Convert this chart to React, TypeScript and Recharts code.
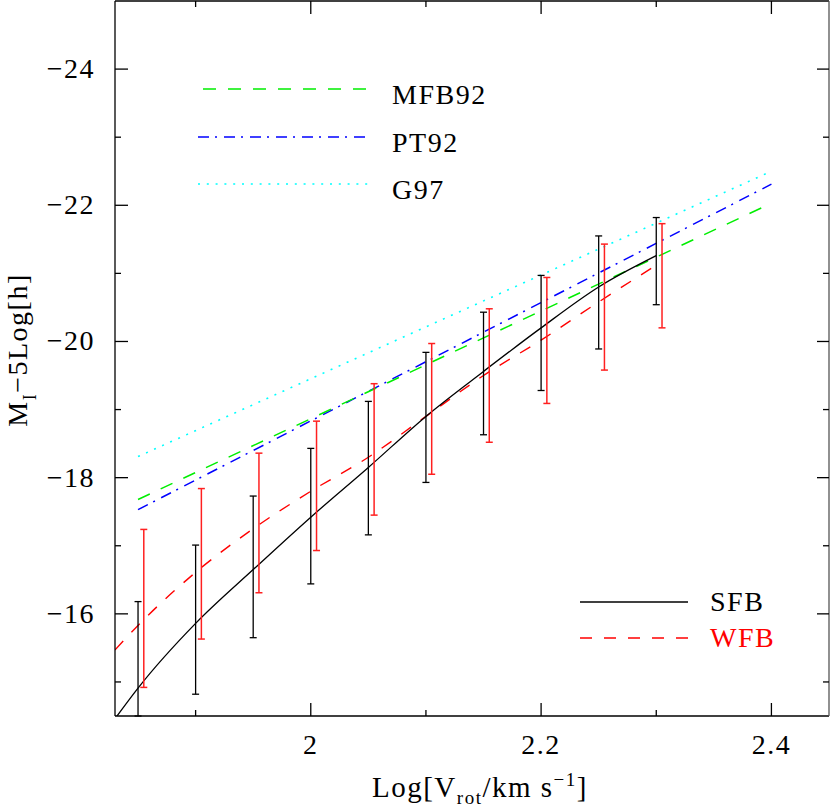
import React from "react"
import { ComposedChart, Line, Scatter, ErrorBar, XAxis, YAxis } from "recharts"

const FONT = '"Liberation Serif", "Times New Roman", serif'

// straight-line relations, end points
const relX = [1.85, 2.4]
const mfb92 = [-17.68, -22.03]
const pt92 = [-17.53, -22.31]
const g97 = [-18.31, -22.5]

// model curves
const curveX = [1.83, 1.85, 1.9, 1.95, 2.0, 2.05, 2.1, 2.15, 2.2, 2.25, 2.3]
const sfb = [-14.46, -14.91, -15.86, -16.65, -17.42, -18.15, -18.9, -19.56, -20.2, -20.8, -21.26]
const wfb = [-15.47, -15.83, -16.61, -17.25, -17.8, -18.3, -18.9, -19.5, -20.02, -20.58, -21.12]

// error bars (top = brighter end, bottom = fainter end; first SFB bar runs off the axis)
const sfbBarX = [1.85, 1.9, 1.95, 2.0, 2.05, 2.1, 2.15, 2.2, 2.25, 2.3]
const sfbBarTop = [-16.18, -17.01, -17.73, -18.43, -19.12, -19.84, -20.43, -20.97, -21.55, -21.82]
const sfbBarBottom = [-14.5, -14.82, -15.65, -16.44, -17.16, -17.93, -18.63, -19.28, -19.89, -20.54]
const wfbBarX = [1.855, 1.905, 1.955, 2.005, 2.055, 2.105, 2.155, 2.205, 2.255, 2.305]
const wfbBarTop = [-17.24, -17.84, -18.36, -18.83, -19.38, -19.97, -20.48, -20.94, -21.43, -21.73]
const wfbBarBottom = [-14.92, -15.63, -16.31, -16.93, -17.45, -18.05, -18.52, -19.09, -19.58, -20.2]

const xTicks = [1.9, 2.0, 2.1, 2.2, 2.3, 2.4]
const yTicks = [-24, -23, -22, -21, -20, -19, -18, -17, -16, -15]

const toLine = (xs: number[], ys: number[]) => xs.map((x, i) => ({ x, y: ys[i] }))
const toBars = (xs: number[], top: number[], bot: number[]) =>
  xs.map((x, i) => {
    const mid = (top[i] + bot[i]) / 2
    return { x, y: mid, err: [mid - top[i], bot[i] - mid] }
  })

const mfbData = toLine(relX, mfb92)
const ptData = toLine(relX, pt92)
const gData = toLine(relX, g97)
const sfbData = toLine(curveX, sfb)
const wfbData = toLine(curveX, wfb)
const sfbBars = toBars(sfbBarX, sfbBarTop, sfbBarBottom)
const wfbBars = toBars(wfbBarX, wfbBarTop, wfbBarBottom)

const isMajorX = (v: number) => Math.round(v * 10) % 2 === 0
const isMajorY = (v: number) => Math.round(v) % 2 === 0
const AX = "#000"

const BottomTick = (p: any) => {
  const major = isMajorX(p.payload.value)
  return (
    <g>
      <line x1={p.x} x2={p.x} y1={p.y} y2={p.y - (major ? 13 : 6)} stroke={AX} strokeWidth={1.3} />
      {major && (
        <text x={p.x} y={p.y + 38} textAnchor="middle" fontFamily={FONT} fontSize={28} letterSpacing={1.5} fill="#000">
          {p.payload.value}
        </text>
      )}
    </g>
  )
}
const TopTick = (p: any) => {
  const major = isMajorX(p.payload.value)
  return <line x1={p.x} x2={p.x} y1={p.y} y2={p.y + (major ? 13 : 6)} stroke={AX} strokeWidth={1.3} />
}
const LeftTick = (p: any) => {
  const v = p.payload.value
  const major = isMajorY(v)
  return (
    <g>
      <line x1={p.x} x2={p.x + (major ? 13 : 6)} y1={p.y} y2={p.y} stroke={AX} strokeWidth={1.3} />
      {major && (
        <text x={p.x - 20} y={p.y + 9} textAnchor="end" fontFamily={FONT} fontSize={28} letterSpacing={1.5} fill="#000">
          {"\u2212" + Math.abs(v)}
        </text>
      )}
    </g>
  )
}
const RightTick = (p: any) => {
  const major = isMajorY(p.payload.value)
  return <line x1={p.x} x2={p.x - (major ? 12 : 6)} y1={p.y} y2={p.y} stroke={AX} strokeWidth={1.3} />
}

const txt = { fontFamily: FONT, fontSize: 28, letterSpacing: 1.5 }

export default function App() {
  return (
    <div style={{ position: "absolute", left: 0, top: 0, width: 831, height: 807, background: "#fff" }}>
      <ComposedChart width={831} height={807} margin={{ top: 0, right: 0, bottom: 0, left: 0 }}>
        <XAxis xAxisId="b" type="number" dataKey="x" domain={[1.83, 2.45]} ticks={xTicks} interval={0}
          orientation="bottom" height={91} allowDataOverflow tickLine={false} tickSize={0} tickMargin={0}
          tick={BottomTick} axisLine={{ stroke: AX, strokeWidth: 1.3 }} />
        <XAxis xAxisId="t" type="number" dataKey="x" domain={[1.83, 2.45]} ticks={xTicks} interval={0}
          orientation="top" height={1} allowDataOverflow tickLine={false} tickSize={0} tickMargin={0}
          tick={TopTick} axisLine={{ stroke: AX, strokeWidth: 1.3 }} />
        <YAxis yAxisId="l" type="number" dataKey="y" domain={[-25, -14.5]} reversed ticks={yTicks} interval={0}
          width={115} allowDataOverflow tickLine={false} tickSize={0} tickMargin={0}
          tick={LeftTick} axisLine={{ stroke: AX, strokeWidth: 1.3 }} />
        <YAxis yAxisId="r" orientation="right" type="number" dataKey="y" domain={[-25, -14.5]} reversed ticks={yTicks}
          interval={0} width={2} allowDataOverflow tickLine={false} tickSize={0} tickMargin={0}
          tick={RightTick} axisLine={{ stroke: "#555", strokeWidth: 1.3 }} />

        <Line xAxisId="b" yAxisId="l" data={gData} dataKey="y" type="linear" stroke="#00ffff" strokeWidth={1.6}
          strokeDasharray="2 6.8" dot={false} isAnimationActive={false} />
        <Line xAxisId="b" yAxisId="l" data={ptData} dataKey="y" type="linear" stroke="#0000ff" strokeWidth={1.5}
          strokeDasharray="11 6 2 7" dot={false} isAnimationActive={false} />
        <Line xAxisId="b" yAxisId="l" data={mfbData} dataKey="y" type="linear" stroke="#00ee00" strokeWidth={1.5}
          strokeDasharray="13 12" dot={false} isAnimationActive={false} />
        <Line xAxisId="b" yAxisId="l" data={wfbData} dataKey="y" type="monotone" stroke="#ff0000" strokeWidth={1.4}
          strokeDasharray="12 12" dot={false} isAnimationActive={false} />
        <Line xAxisId="b" yAxisId="l" data={sfbData} dataKey="y" type="monotone" stroke="#000" strokeWidth={1.3}
          dot={false} isAnimationActive={false} />

        <Scatter xAxisId="b" yAxisId="l" data={sfbBars} dataKey="y" shape={() => <g />} isAnimationActive={false}>
          <ErrorBar dataKey="err" direction="y" width={3.5} stroke="#000" strokeWidth={1.3} isAnimationActive={false} />
        </Scatter>
        <Scatter xAxisId="b" yAxisId="l" data={wfbBars} dataKey="y" shape={() => <g />} isAnimationActive={false}>
          <ErrorBar dataKey="err" direction="y" width={3.5} stroke="#ff2020" strokeWidth={1.5} isAnimationActive={false} />
        </Scatter>
      </ComposedChart>

      <svg width={831} height={807} style={{ position: "absolute", left: 0, top: 0, pointerEvents: "none" }}>
        <line x1={203} x2={370} y1={89} y2={89} stroke="#00ee00" strokeWidth={1.5} strokeDasharray="13 12" />
        <text x={392} y={104} {...txt}>MFB92</text>
        <line x1={198} x2={370} y1={137} y2={137} stroke="#0000ff" strokeWidth={1.5} strokeDasharray="11 6 2 7" />
        <text x={392} y={152} {...txt}>PT92</text>
        <line x1={198} x2={370} y1={184} y2={184} stroke="#00ffff" strokeWidth={1.6} strokeDasharray="2 6.8" />
        <text x={392} y={199} {...txt}>G97</text>

        <line x1={580} x2={688} y1={602} y2={602} stroke="#000" strokeWidth={1.3} />
        <text x={710} y={611} {...txt}>SFB</text>
        <line x1={580} x2={688} y1={638} y2={638} stroke="#ff0000" strokeWidth={1.4} strokeDasharray="12 12" />
        <text x={710} y={647} {...txt} fill="#ff0000">WFB</text>

        <text x={480} y={797} textAnchor="middle" {...txt} fontSize={29}>
          Log[V<tspan fontSize={19} dy={7}>rot</tspan>
          <tspan dy={-7}>/km  s</tspan>
          <tspan fontSize={19} dy={-11}>{"\u22121"}</tspan>
          <tspan dy={11}>]</tspan>
        </text>
        <text transform="translate(27, 350) rotate(-90)" textAnchor="middle" {...txt}>
          M<tspan fontSize={18} dy={9}>I</tspan>
          <tspan dy={-9}>{"\u22125Log[h]"}</tspan>
        </text>
      </svg>
    </div>
  )
}
